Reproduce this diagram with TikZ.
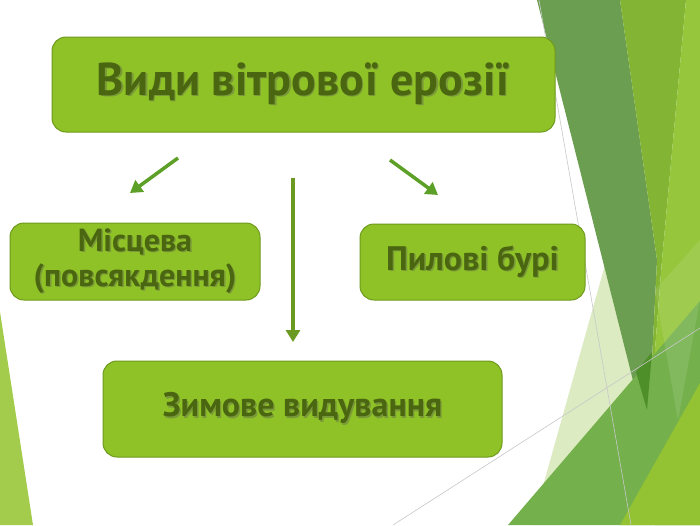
\documentclass[tikz,border=0pt]{standalone}
\usepackage{fontspec}
\setmainfont{PT Sans}
\usetikzlibrary{arrows.meta}
\definecolor{boxfill}{HTML}{8FC226}
\definecolor{boxline}{HTML}{6E9A1E}
\definecolor{txt}{HTML}{4A6610}
\definecolor{shc}{HTML}{7A9A3A}
\definecolor{arrowA}{HTML}{5DA028}
\definecolor{arrowB}{HTML}{6B9A22}
\definecolor{gDark}{HTML}{6B9E50}
\definecolor{gMid}{HTML}{84B434}
\definecolor{gLight}{HTML}{95C63C}
\definecolor{gTri}{HTML}{74B04C}
\definecolor{gBot}{HTML}{93C332}
\definecolor{gPale}{HTML}{DCEBC2}
\definecolor{gLeft}{HTML}{A3CC4C}
\definecolor{gDeep}{HTML}{4F8F2A}
\definecolor{gLine}{HTML}{C8C8C8}
\newcommand\shtext[1]{\leavevmode\rlap{\kern1.4pt\raisebox{-1.4pt}{\textcolor{shc}{#1}}}#1}
\tikzset{
  box/.style={draw=boxline, line width=1pt, fill=boxfill, rounded corners=14pt,
    text=txt, align=center, inner sep=0pt},
  bigtext/.style={font=\bfseries\fontsize{46}{50}\selectfont},
  smalltext/.style={font=\bfseries\fontsize{34}{35}\selectfont},
  lefttext/.style={font=\bfseries\fontsize{32}{35}\selectfont},
  arr/.style={line width=3.5pt, -{Triangle[length=12pt,width=14pt]}},
}
\begin{document}
\begin{tikzpicture}[x=1pt,y=-1pt]
\useasboundingbox (0,0) rectangle (700,525);
\fill[white] (0,0) rectangle (700,525);
% background decoration
\fill[gLeft] (0,312) -- (33,525) -- (0,525) -- cycle;
\fill[gPale] (612,240) -- (648,430) -- (560,525) -- (532,525) -- cycle;
\fill[gDark] (537,0) -- (620,0) -- (657,260) -- (648,440) -- cycle;
\fill[gMid] (620,0) -- (686,0) -- (662,260) -- (648,440) -- (657,260) -- cycle;
\fill[gLight] (686,0) -- (700,0) -- (700,525) -- (655,525) -- (648,440) -- (662,260) -- cycle;
\fill[gTri] (508,525) -- (700,301) -- (700,525) -- cycle;
\fill[gDeep] (636,372) -- (652,352) -- (647,410) -- cycle;
\fill[gBot] (620,525) -- (700,383) -- (700,525) -- cycle;
\fill[white, opacity=0.1] (655,290) -- (700,240) -- (700,300) -- (678,420) -- cycle;
\draw[gLine, line width=0.6pt] (539,0) -- (631,525);
\draw[gLine, line width=0.6pt] (393,525) -- (700,328);
% boxes
\node[box, bigtext, minimum width=503pt, minimum height=95pt] (title) at (303.5,84.5)
  {\raisebox{4pt}{\shtext{Види вітрової ерозії}}};
\node[box, lefttext, minimum width=250pt, minimum height=77pt] (local) at (135,261.5)
  {\shtext{Місцева}\\\shtext{(повсякдення)}};
\node[box, smalltext, minimum width=225pt, minimum height=76pt] (dust) at (472.5,262)
  {\shtext{Пилові бурі}};
\node[box, smalltext, minimum width=399pt, minimum height=96pt] (winter) at (302.5,409)
  {\shtext{Зимове видування}};
% arrows
\coordinate (a1s) at (178,158);
\coordinate (a1e) at (130,193);
\coordinate (a2s) at (390,160);
\coordinate (a2e) at (438,195);
\coordinate (a3s) at (293,178);
\coordinate (a3e) at (293,342);
\draw[arr, arrowA] (a1s) -- (a1e);
\draw[arr, arrowA] (a2s) -- (a2e);
\draw[arr, arrowB] (a3s) -- (a3e);
\end{tikzpicture}
\end{document}
